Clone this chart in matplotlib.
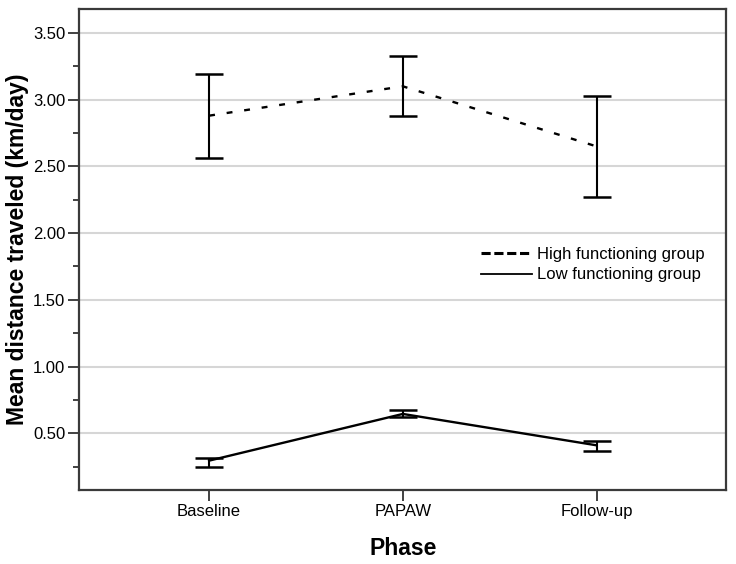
import numpy as np
import matplotlib
matplotlib.use("Agg")
import matplotlib.pyplot as plt
from matplotlib.lines import Line2D
from matplotlib.ticker import MultipleLocator

phases = ["Baseline", "PAPAW", "Follow-up"]

# high functioning group: mean and error bar ends
high_mean = [2.88, 3.10, 2.65]
high_upper = [3.19, 3.33, 3.03]
high_lower = [2.56, 2.88, 2.27]

# low functioning group
low_mean = [0.295, 0.645, 0.41]
low_upper = [0.317, 0.675, 0.442]
low_lower = [0.245, 0.625, 0.367]

plt.rcParams['font.family'] = ['Liberation Sans', 'DejaVu Sans']

fig = plt.figure(figsize=(7.36, 5.64), dpi=100)
ax = fig.add_axes([0.1078, 0.1312, 0.879, 0.853])

x = np.arange(len(phases))

# grid lines behind everything
ax.set_axisbelow(True)
ax.yaxis.grid(True, which='major', color='#d6d6d6', linewidth=1.5)

def draw_group(mean, upper, lower, ls):
    mean = np.array(mean)
    yerr = [mean - np.array(lower), np.array(upper) - mean]
    ax.plot(x, mean, color='black', linestyle=ls, linewidth=1.7)
    ax.errorbar(x, mean, yerr=yerr, fmt='none', ecolor='black',
                elinewidth=1.5, capsize=10, capthick=1.8)

draw_group(high_mean, high_upper, high_lower, (0, (2.5, 5)))
draw_group(low_mean, low_upper, low_lower, '-')

ax.set_xlim(-0.67, 2.67)
ax.set_ylim(0.075, 3.68)
ax.set_xticks(x)
ax.set_xticklabels(phases)
ax.yaxis.set_major_locator(MultipleLocator(0.5))
ax.yaxis.set_minor_locator(MultipleLocator(0.25))
ax.yaxis.set_major_formatter(matplotlib.ticker.FormatStrFormatter('%.2f'))
ax.tick_params(axis='both', which='major', labelsize=12, length=8, width=1.3,
               color='#333333', pad=2)
ax.tick_params(axis='y', which='minor', length=4, width=1.3, color='#333333')

for sp in ax.spines.values():
    sp.set_color('#3a3a3a')
    sp.set_linewidth(1.6)

ax.set_ylabel("Mean distance traveled (km/day)", fontsize=16.5, fontweight='bold',
              labelpad=3)
ax.set_xlabel("Phase", fontsize=16.5, fontweight='bold', labelpad=13)

handles = [Line2D([], [], color='black', linewidth=2.2, linestyle=(0, (3, 1.2))),
           Line2D([], [], color='black', linewidth=1.3, linestyle='-')]
ax.legend(handles, ["High functioning group", "Low functioning group"],
          loc='upper left', bbox_to_anchor=(0.61, 0.52), frameon=False,
          fontsize=12, handlelength=3.1, handletextpad=0.3, labelspacing=0.35,
          borderaxespad=0)

fig.savefig("out.png", dpi=100)
